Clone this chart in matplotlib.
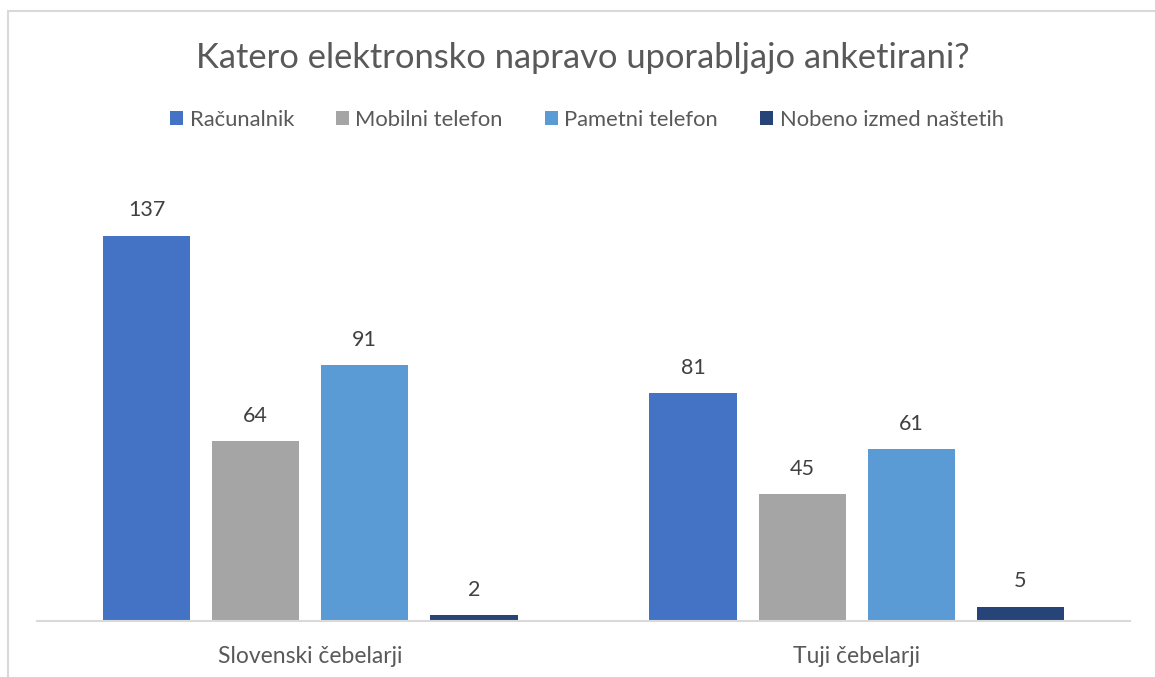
import numpy as np
import matplotlib.pyplot as plt
from matplotlib.patches import Patch, Rectangle

# podatki
skupine = ['Slovenski čebelarji', 'Tuji čebelarji']
serije = ['Računalnik', 'Mobilni telefon', 'Pametni telefon', 'Nobeno izmed naštetih']
racunalnik = [137, 81]
mobilni = [64, 45]
pametni = [91, 61]
nobeno = [2, 5]

barve = ['#4472C4', '#A5A5A5', '#5B9BD5', '#264478']
tekst = '#595959'
crta = '#D9D9D9'

plt.rcParams['font.family'] = ['Lato', 'DejaVu Sans']

fig = plt.figure(figsize=(11.55, 6.77), dpi=100)
ax = fig.add_axes([37 / 1155, 56 / 677, 1093 / 1155, 450 / 677])

x = np.arange(len(skupine))
sirina = 0.16
korak = 0.1995
vrednosti = [racunalnik, mobilni, pametni, nobeno]
for i, (ime, v) in enumerate(zip(serije, vrednosti)):
    pos = x + (i - 1.5) * korak
    bars = ax.bar(pos, v, width=sirina, color=barve[i], label=ime, zorder=2)
    for b, val in zip(bars, v):
        ax.text(b.get_x() + b.get_width() / 2, val + 5.5, str(val),
                ha='center', va='bottom', fontsize=15.5, color='#404040')

ax.set_xlim(-0.5, 1.5)
ax.set_ylim(0, 160)
ax.set_yticks([])
ax.set_xticks(x)
ax.set_xticklabels(skupine, fontsize=16.5, color=tekst)
ax.tick_params(axis='x', length=0, pad=18)
for s in ['top', 'right', 'left']:
    ax.spines[s].set_visible(False)
ax.spines['bottom'].set_color(crta)
ax.spines['bottom'].set_linewidth(1.5)

fig.text(0.505, 0.915, 'Katero elektronsko napravo uporabljajo anketirani?',
         ha='center', va='center', fontsize=24.8, color=tekst)

handles = [Patch(facecolor=c, label=n) for c, n in zip(barve, serije)]
fig.legend(handles=handles, loc='center', bbox_to_anchor=(0.508, 0.823), ncol=4,
           frameon=False, fontsize=15.8, handlelength=0.6, handleheight=0.6,
           handletextpad=0.3, columnspacing=1.9, labelcolor=tekst)

# okvir grafikona (odrezan desno in spodaj)
fig.add_artist(Rectangle((8 / 1155, -0.1), 1.2, (677 - 11) / 677 + 0.1,
                         transform=fig.transFigure, fill=False,
                         edgecolor=crta, linewidth=1.5))

fig.savefig('out.png', dpi=100)
